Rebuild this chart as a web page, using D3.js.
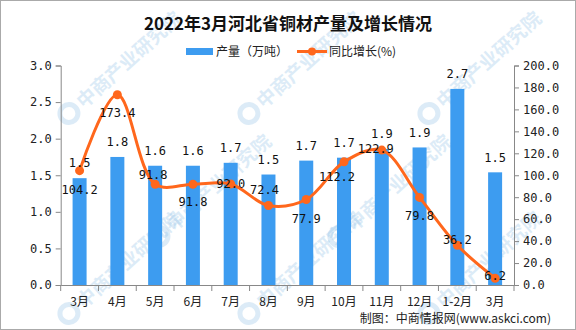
<!DOCTYPE html>
<html><head><meta charset="utf-8">
<script src="https://cdn.jsdelivr.net/npm/d3@7/dist/d3.min.js"></script>
<style>body{margin:0;background:#fff}svg{display:block}</style>
</head><body>
<svg id="c" width="576" height="330"></svg>
<script>
const categories = ["3月","4月","5月","6月","7月","8月","9月","10月","11月","12月","1-2月","3月"];
const output = [1.46,1.75,1.63,1.63,1.67,1.51,1.70,1.74,1.86,1.88,2.68,1.54];
const outputLabels = ["1.5","1.8","1.6","1.6","1.7","1.5","1.7","1.7","1.9","1.9","2.7","1.5"];
const growth = [104.2,173.4,91.8,91.8,92.0,72.4,77.9,112.2,122.9,79.8,36.2,6.2];
const leftTicks = [0,0.5,1.0,1.5,2.0,2.5,3.0];
const rightTicks = [0,20,40,60,80,100,120,140,160,180,200];

// label placement (layout only)
const growthLabelDy = [19,18,-9,18,0,-16,19,15,-1,18,-5,-2];
const growthLabelDx = [0,0,-2,0,0,-4,0,-7,-6,0,0,0];

const svg = d3.select("#c");
const W = 576, H = 330;
const m = {l:60.7, r:514, t:65.5, b:285};
const mono = "'DejaVu Sans Mono', monospace";
const cjk = "'Noto Sans CJK SC', sans-serif";
const blue = "#3d9cf0", orange = "#ff671c", axisC = "#888";

svg.append("rect").attr("x",0.5).attr("y",0.5).attr("width",W-1).attr("height",H-1)
  .attr("fill","#fff").attr("stroke","#aaa");

const x = d3.scaleBand().domain(d3.range(categories.length)).range([m.l, m.r]).paddingInner(0).paddingOuter(0);
const yL = d3.scaleLinear().domain([0,3]).range([m.b, m.t]);
const yR = d3.scaleLinear().domain([0,200]).range([m.b, m.t]);
const bw = 14;

// watermarks (drawn first, faint)
const wm = svg.append("g").attr("pointer-events","none");
const wmPos = [[115,72],[295,72],[475,72],[205,195],[385,195],[115,272],[295,272],[475,272]];
wmPos.forEach(([cx,cy])=>{
  const g = wm.append("g").attr("transform",`translate(${cx},${cy}) rotate(-42)`).attr("opacity",0.3);
  g.append("circle").attr("cx",-62).attr("cy",0).attr("r",9).attr("fill","none").attr("stroke","#8fbfe6").attr("stroke-width",5);
  g.append("text").attr("x",-48).attr("y",7).attr("font-family",cjk).attr("font-weight","bold").attr("font-size",19)
    .attr("fill","#8fbfe6").text("中商产业研究院");
});

// title
svg.append("text").attr("x",288).attr("y",30).attr("text-anchor","middle")
  .attr("font-family",cjk).attr("font-weight","bold").attr("font-size",17).attr("fill","#111")
  .text("2022年3月河北省铜材产量及增长情况");

// legend
svg.append("rect").attr("x",186).attr("y",48).attr("width",27).attr("height",7).attr("fill",blue);
svg.append("text").attr("x",216).attr("y",56).attr("font-family",cjk).attr("font-size",12).attr("fill","#222").text("产量（万吨）");
svg.append("line").attr("x1",297).attr("x2",327).attr("y1",51.5).attr("y2",51.5).attr("stroke",orange).attr("stroke-width",3);
svg.append("circle").attr("cx",312).attr("cy",51.5).attr("r",4).attr("fill",orange);
svg.append("text").attr("x",329).attr("y",56).attr("font-family",cjk).attr("font-size",12).attr("fill","#222").text("同比增长(%)");

// axes
const gL = svg.append("g").attr("transform",`translate(${m.l},0)`)
  .call(d3.axisLeft(yL).tickValues(leftTicks).tickFormat(d3.format(".1f")).tickSize(5).tickPadding(4));
const gR = svg.append("g").attr("transform",`translate(${m.r},0)`)
  .call(d3.axisRight(yR).tickValues(rightTicks).tickFormat(d3.format(".1f")).tickSize(5).tickPadding(4));
const xTickScale = d3.scaleLinear().domain([0,categories.length]).range([m.l,m.r]);
const gX = svg.append("g").attr("transform",`translate(0,${m.b})`)
  .call(d3.axisBottom(x).tickFormat(i=>categories[i]).tickSize(0).tickPadding(12));
gX.selectAll(".tick text").attr("font-family",cjk).attr("font-size",12).attr("fill","#222");
gX.append("g").selectAll("line").data(d3.range(categories.length+1)).join("line")
  .attr("x1",d=>xTickScale(d)).attr("x2",d=>xTickScale(d)).attr("y1",0).attr("y2",6).attr("stroke",axisC);
[gL,gR].forEach(g=>{
  g.selectAll(".tick text").attr("font-family",mono).attr("font-size",12).attr("fill","#222");
});
[gL,gR,gX].forEach(g=>{
  g.select(".domain").attr("stroke",axisC);
  g.selectAll(".tick line").attr("stroke",axisC);
});

// bars
svg.append("g").selectAll("rect").data(output).join("rect")
  .attr("x",(d,i)=>x(i)+x.bandwidth()/2-bw/2).attr("width",bw)
  .attr("y",d=>yL(d)).attr("height",d=>m.b-yL(d)).attr("fill",blue);

// line
const line = d3.line().x((d,i)=>x(i)+x.bandwidth()/2).y(d=>yR(d)).curve(d3.curveCatmullRom.alpha(0.5));
svg.append("path").datum(growth).attr("d",line).attr("fill","none").attr("stroke",orange).attr("stroke-width",3);
svg.append("g").selectAll("circle").data(growth).join("circle")
  .attr("cx",(d,i)=>x(i)+x.bandwidth()/2).attr("cy",d=>yR(d)).attr("r",4.5).attr("fill",orange);

// bar labels
svg.append("g").selectAll("text").data(output).join("text")
  .attr("x",(d,i)=>x(i)+x.bandwidth()/2).attr("y",d=>yL(d)-15).attr("dy","0.35em")
  .attr("text-anchor","middle").attr("font-family",mono).attr("font-size",12).attr("fill","#111")
  .text((d,i)=>outputLabels[i]);

// growth labels
svg.append("g").selectAll("text").data(growth).join("text")
  .attr("x",(d,i)=>x(i)+x.bandwidth()/2+growthLabelDx[i]).attr("y",(d,i)=>yR(d)+growthLabelDy[i]).attr("dy","0.35em")
  .attr("text-anchor","middle").attr("font-family",mono).attr("font-size",12).attr("fill","#111")
  .text(d=>d.toFixed(1));

// source
svg.append("text").attr("x",551).attr("y",323).attr("text-anchor","end")
  .attr("font-family",cjk).attr("font-size",12).attr("fill","#222").text("制图：中商情报网(www.askci.com)");
</script>
</body></html>
